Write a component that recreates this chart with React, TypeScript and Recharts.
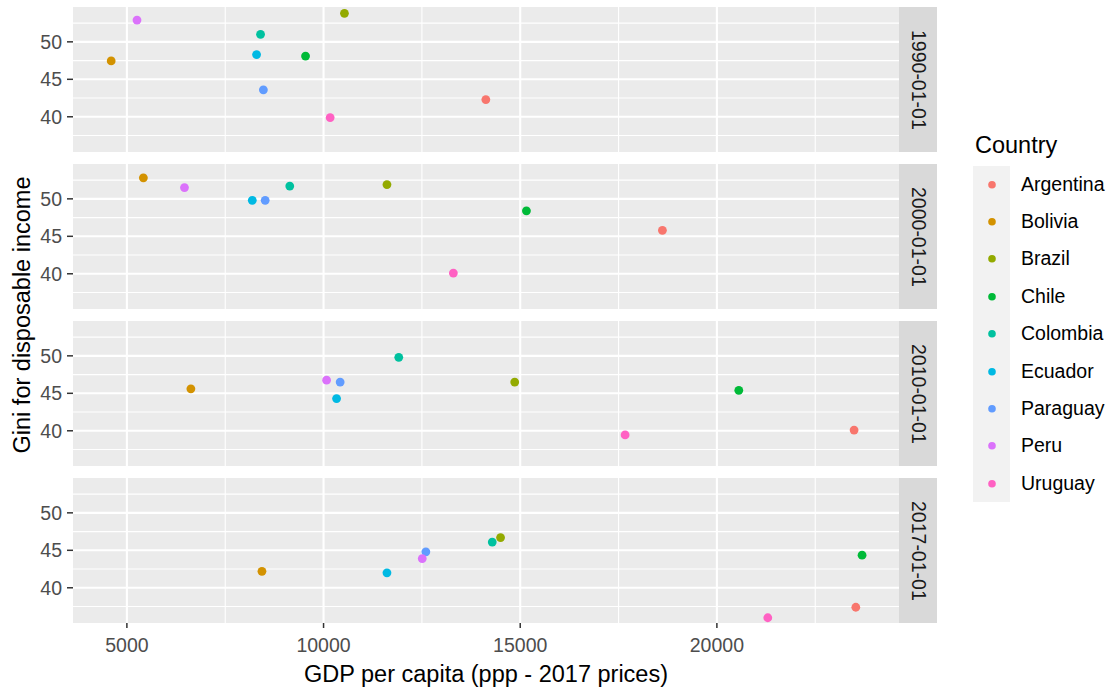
import React from 'react';
import { ScatterChart, Scatter, XAxis, YAxis, CartesianGrid } from 'recharts';

const countries = ['Argentina', 'Bolivia', 'Brazil', 'Chile', 'Colombia', 'Ecuador', 'Paraguay', 'Peru', 'Uruguay'];
const countryColors = ['#F8766D', '#D39200', '#93AA00', '#00BA38', '#00C19F', '#00B9E3', '#619CFF', '#DB72FB', '#FF61C3'];
const years = ['1990-01-01', '2000-01-01', '2010-01-01', '2017-01-01'];

// values in country order
const gdp1990 = [14126, 4601, 10531, 9542, 8398, 8297, 8470, 5257, 10168];
const gini1990 = [42.3, 47.45, 53.8, 48.1, 51.0, 48.3, 43.6, 52.9, 39.9];
const gdp2000 = [18615, 5419, 11612, 15158, 9141, 8188, 8516, 6464, 13300];
const gini2000 = [45.8, 52.8, 51.9, 48.4, 51.7, 49.8, 49.8, 51.5, 40.1];
const gdp2010 = [23488, 6627, 14860, 20557, 11912, 10331, 10422, 10077, 17667];
const gini2010 = [40.1, 45.6, 46.5, 45.4, 49.8, 44.3, 46.5, 46.75, 39.45];
const gdp2017 = [23532, 8434, 14500, 23691, 14289, 11612, 12601, 12509, 21294];
const gini2017 = [37.4, 42.2, 46.7, 44.35, 46.1, 42.0, 44.8, 43.9, 36.0];

const xTicks = [5000, 10000, 15000, 20000];
const xMinor = [7500, 12500, 17500, 22500];
const yTicks = [40, 45, 50];
const yMinor = [37.5, 42.5, 47.5, 52.5];

const gdpByYear = [gdp1990, gdp2000, gdp2010, gdp2017];
const giniByYear = [gini1990, gini2000, gini2010, gini2017];

const PLOT_LEFT = 73;
const PLOT_RIGHT = 899;
const PANEL_H = 145;
const PANEL_TOPS = [7, 164, 321, 478];
const X_AXIS_H = 45;
const FONT = '"Liberation Sans", Arial, sans-serif';

const Panel = ({ gdp, gini, showX }: { gdp: number[]; gini: number[]; showX: boolean }) => (
  <ScatterChart
    width={PLOT_RIGHT}
    height={showX ? PANEL_H + X_AXIS_H : PANEL_H}
    margin={{ top: 0, right: 0, bottom: 0, left: 0 }}
  >
    <CartesianGrid fill="#EBEBEB" stroke="#FFFFFF" strokeWidth={1.1} horizontalValues={yMinor} verticalValues={xMinor} />
    <CartesianGrid stroke="#FFFFFF" strokeWidth={2.1} horizontalValues={yTicks} verticalValues={xTicks} />
    <XAxis
      type="number"
      dataKey="x"
      domain={[3630, 24630]}
      ticks={xTicks}
      hide={!showX}
      height={X_AXIS_H}
      axisLine={false}
      tickSize={5}
      tickMargin={10}
      tick={{ fill: '#4D4D4D', fontSize: 19.5 }}
      tickLine={{ stroke: '#333333', strokeWidth: 1.5 }}
      allowDataOverflow
    />
    <YAxis
      type="number"
      dataKey="y"
      domain={[35.3, 54.65]}
      ticks={yTicks}
      width={PLOT_LEFT}
      axisLine={false}
      tickSize={6}
      tickMargin={5}
      tick={{ fill: '#4D4D4D', fontSize: 19.5 }}
      tickLine={{ stroke: '#333333', strokeWidth: 1.5 }}
      allowDataOverflow
    />
    {countries.map((c, i) => (
      <Scatter
        key={c}
        name={c}
        data={[{ x: gdp[i], y: gini[i] }]}
        fill={countryColors[i]}
        isAnimationActive={false}
        shape={(p: any) => <circle cx={p.cx} cy={p.cy} r={4.4} fill={countryColors[i]} />}
      />
    ))}
  </ScatterChart>
);

const KEY_TOP = 165.5;
const KEY_H = 37.4;

export default function App() {
  return (
    <div style={{ position: 'absolute', left: 0, top: 0, width: 1117, height: 691, background: '#fff', fontFamily: FONT }}>
      {years.map((yr, k) => (
        <React.Fragment key={yr}>
          <div style={{ position: 'absolute', left: 0, top: PANEL_TOPS[k] }}>
            <Panel gdp={gdpByYear[k]} gini={giniByYear[k]} showX={k === years.length - 1} />
          </div>
          <div
            style={{
              position: 'absolute',
              left: PLOT_RIGHT,
              top: PANEL_TOPS[k],
              width: 38,
              height: PANEL_H,
              background: '#D9D9D9',
              display: 'flex',
              alignItems: 'center',
              justifyContent: 'center',
            }}
          >
            <span style={{ writingMode: 'vertical-rl', fontSize: 19.5, color: '#1A1A1A' }}>{yr}</span>
          </div>
        </React.Fragment>
      ))}

      <div
        style={{
          position: 'absolute',
          left: 22,
          top: 315,
          transform: 'translate(-50%, -50%) rotate(-90deg)',
          whiteSpace: 'nowrap',
          fontSize: 23.5,
          color: '#000',
        }}
      >
        Gini for disposable income
      </div>
      <div
        style={{
          position: 'absolute',
          left: (PLOT_LEFT + PLOT_RIGHT) / 2,
          top: 674,
          transform: 'translate(-50%, -50%)',
          whiteSpace: 'nowrap',
          fontSize: 23.5,
          color: '#000',
        }}
      >
        GDP per capita (ppp - 2017 prices)
      </div>

      {/* legend */}
      <div style={{ position: 'absolute', left: 975, top: 133, fontSize: 23.5, lineHeight: '24px', color: '#000' }}>Country</div>
      <div
        style={{
          position: 'absolute',
          left: 973,
          top: KEY_TOP,
          width: 37,
          height: KEY_H * countries.length,
          background: '#F2F2F2',
        }}
      />
      {countries.map((c, i) => (
        <div
          key={c}
          style={{ position: 'absolute', left: 973, top: KEY_TOP + i * KEY_H, height: KEY_H, display: 'flex', alignItems: 'center' }}
        >
          <svg width={37} height={KEY_H} style={{ display: 'block' }}>
            <circle cx={19} cy={KEY_H / 2} r={3.8} fill={countryColors[i]} />
          </svg>
          <span style={{ marginLeft: 11, fontSize: 19.5, color: '#000', whiteSpace: 'nowrap' }}>{c}</span>
        </div>
      ))}
    </div>
  );
}
